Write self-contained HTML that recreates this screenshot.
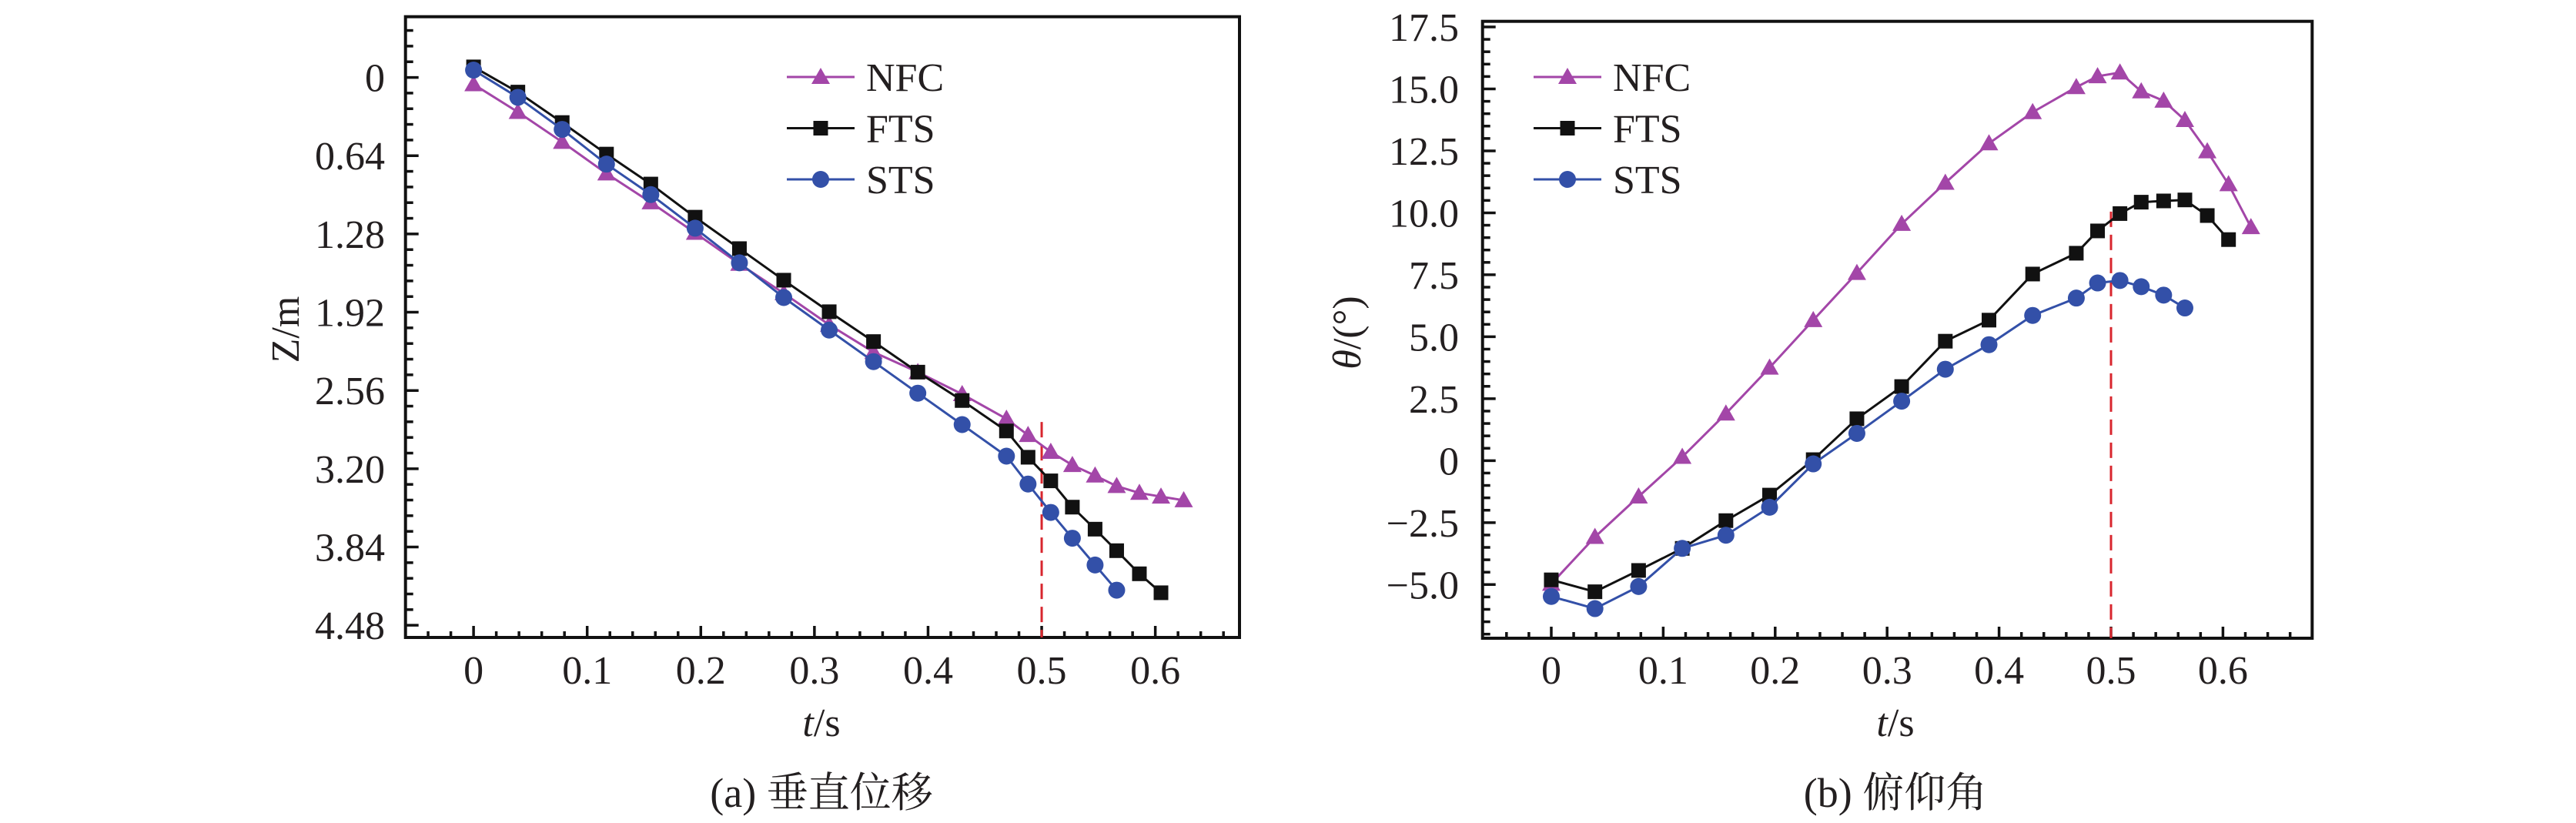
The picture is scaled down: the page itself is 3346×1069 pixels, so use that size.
<!DOCTYPE html>
<html><head><meta charset="utf-8"><style>
html,body{margin:0;padding:0;background:#fff;}
svg{display:block;font-family:"Liberation Serif","Noto Serif CJK SC",serif;}
</style></head><body>
<svg id="fig" width="3346" height="1069" viewBox="0 0 3346 1069" xmlns="http://www.w3.org/2000/svg"></svg>
<script>
// ---------- Data ----------
const tNFC = [0,0.039,0.078,0.117,0.156,0.195,0.234,0.273,0.313,0.352,0.391,0.43,0.469,0.488,0.508,0.527,0.547,0.566,0.586,0.605,0.625];
const tFTS = tNFC.slice(0,20);
const tSTS = tNFC.slice(0,18);
const zNFC = [0.056,0.283,0.528,0.786,1.022,1.271,1.525,1.765,2.023,2.246,2.410,2.590,2.792,2.925,3.062,3.170,3.256,3.342,3.398,3.428,3.458];
const zFTS = [-0.086,0.120,0.369,0.627,0.872,1.143,1.400,1.658,1.916,2.160,2.410,2.642,2.891,3.106,3.299,3.514,3.694,3.870,4.059,4.214];
const zSTS = [-0.060,0.163,0.425,0.709,0.958,1.233,1.516,1.800,2.066,2.324,2.582,2.839,3.097,3.325,3.557,3.768,3.987,4.193];
const thNFC = [-4.97,-3.08,-1.45,0.15,1.90,3.75,5.67,7.57,9.55,11.21,12.80,14.06,15.07,15.51,15.66,14.90,14.52,13.74,12.48,11.15,9.42];
const thFTS = [-4.81,-5.29,-4.43,-3.54,-2.42,-1.39,0.04,1.69,2.99,4.82,5.67,7.53,8.37,9.27,9.97,10.43,10.48,10.52,9.89,8.92];
const thSTS = [-5.48,-5.97,-5.08,-3.54,-3.01,-1.88,-0.13,1.10,2.40,3.69,4.68,5.86,6.56,7.17,7.27,7.02,6.68,6.16];
const xTicks = [0,0.1,0.2,0.3,0.4,0.5,0.6];
const xTickLabels = ["0","0.1","0.2","0.3","0.4","0.5","0.6"];
const zTicks = [0,0.64,1.28,1.92,2.56,3.20,3.84,4.48];
const zTickLabels = ["0","0.64","1.28","1.92","2.56","3.20","3.84","4.48"];
const thTicks = [17.5,15,12.5,10,7.5,5,2.5,0,-2.5,-5];
const thTickLabels = ["17.5","15.0","12.5","10.0","7.5","5.0","2.5","0","\u22122.5","\u22125.0"];
const seriesNames = ["NFC","FTS","STS"];
const markerLine = 0.5;

const NS="http://www.w3.org/2000/svg";
const svg=document.getElementById('fig');
function mk(tag,attrs,parent){const e=document.createElementNS(NS,tag);for(const k in attrs)e.setAttribute(k,attrs[k]);(parent||svg).appendChild(e);return e;}
const COL={NFC:"#a346a8",FTS:"#111111",STS:"#3350a8"};
const TXT="#231f20";

function marker(g,type,x,y,color){
  let m;
  if(type==="NFC"){m=mk('polygon',{points:`${x},${y-12} ${x-12},${y+9} ${x+12},${y+9}`,fill:color},g);}
  else if(type==="FTS"){m=mk('rect',{x:x-9.5,y:y-9.5,width:19,height:19,fill:color},g);}
  else {m=mk('circle',{cx:x,cy:y,r:11,fill:color},g);}
  
  
}

function chart(cfg){
  const g=mk('g',{});
  
  
  const X=v=>cfg.x0+(v-cfg.xmin)/(cfg.xmax-cfg.xmin)*(cfg.x1-cfg.x0);
  const Y=v=>cfg.y0+(v-cfg.ymin)/(cfg.ymax-cfg.ymin)*(cfg.y1-cfg.y0);
  // minor/major x ticks
  const xt=mk('g',{},g);
  
  
  for(let i=-3;i<=34;i++){const v=i*0.02;const px=X(v);if(px<=cfg.x0+3||px>=cfg.x1-3)continue;
    const major=(i%5===0);
    mk('line',{x1:px,y1:cfg.y1,x2:px,y2:cfg.y1-(major?15:8),stroke:"#111","stroke-width":3.5},xt);}
  const yt=mk('g',{},g);
  
  
  const lo=Math.ceil(Math.min(cfg.ymin,cfg.ymax)/cfg.minor-1e-6), hi=Math.floor(Math.max(cfg.ymin,cfg.ymax)/cfg.minor+1e-6);
  for(let i=lo;i<=hi;i++){const v=i*cfg.minor;const py=Y(v);if(py<=cfg.y0+3||py>=cfg.y1-3)continue;
    const major=Math.abs(Math.round(v/cfg.major)*cfg.major-v)<1e-6;
    mk('line',{x1:cfg.x0,y1:py,x2:cfg.x0+(major?17:10),y2:py,stroke:"#111","stroke-width":3.5},yt);}
  // frame
  const fr=mk('rect',{x:cfg.x0,y:cfg.y0,width:cfg.x1-cfg.x0,height:cfg.y1-cfg.y0,fill:"none",stroke:"#111","stroke-width":4},g);
  
  
  // tick labels
  xTicks.forEach((v,i)=>{const t=mk('text',{x:X(v),y:888,"font-size":52,"text-anchor":"middle",fill:TXT},g);t.textContent=xTickLabels[i];
    
    });
  cfg.yTicks.forEach((v,i)=>{const t=mk('text',{x:cfg.ylabX,y:Y(v)+18,"font-size":52,"text-anchor":"end",fill:TXT},g);t.textContent=cfg.yTickLabels[i];
    
    });
  // red dashed line
  const rl=mk('line',{x1:X(markerLine),x2:X(markerLine),y1:Y(cfg.redFrom),y2:cfg.y1,stroke:"#d8262e","stroke-width":3,"stroke-dasharray":"20 10"},g);
  
  
  // series
  cfg.series.forEach(s=>{
    const sg=mk('g',{},g);
    
    
    const pts=s.t.map((t,i)=>X(t)+','+Y(s.v[i])).join(' ');
    mk('polyline',{points:pts,fill:"none",stroke:COL[s.name],"stroke-width":3,"stroke-linejoin":"round"},sg);
    s.t.forEach((t,i)=>marker(sg,s.name,X(t),Y(s.v[i]),COL[s.name]));
  });
  // legend
  const lg=mk('g',{},g);
  
  
  seriesNames.forEach((n,i)=>{
    const e=mk('g',{},lg);
    
    
    const ly=cfg.legY+i*66.5;
    mk('line',{x1:cfg.legX,x2:cfg.legX+88,y1:ly,y2:ly,stroke:COL[n],"stroke-width":3},e);
    marker(e,n,cfg.legX+44,ly,COL[n]);
    const t=mk('text',{x:cfg.legX+103,y:ly+18,"font-size":52,fill:TXT},e);t.textContent=n;
  });
  // axis titles
  const xl=mk('text',{x:cfg.xTitleX,y:956,"font-size":52,"text-anchor":"middle",fill:TXT},g);
  
  
  xl.innerHTML='<tspan font-style="italic">t</tspan>/s';
  const yl=mk('text',{x:0,y:0,"font-size":52,"text-anchor":"middle",fill:TXT,transform:`translate(${cfg.yTitleX},${cfg.yTitleY}) rotate(-90)`},g);
  
  
  yl.innerHTML=cfg.yTitle;
  const cp=mk('text',{x:cfg.xTitleX,y:1048,"font-size":54,"text-anchor":"middle",fill:TXT},g);
  
  
  cp.textContent=cfg.caption;
}

chart({name:'chart-vertical-displacement',x0:526.7,x1:1610,y0:21.7,y1:828,xmin:-0.0599,xmax:0.6741,ymin:-0.4965,ymax:4.5796,
  minor:0.128,major:0.64,yTicks:zTicks,yTickLabels:zTickLabels,ylabX:500,redFrom:2.818,
  series:[{name:"NFC",t:tNFC,v:zNFC},{name:"FTS",t:tFTS,v:zFTS},{name:"STS",t:tSTS,v:zSTS}],
  legX:1022,legY:100,xTitleX:1067,yTitleX:388,yTitleY:428,yTitle:'Z/m',caption:'(a) 垂直位移'});

chart({name:'chart-pitch-angle',x0:1925.7,x1:3003.3,y0:27.7,y1:829,xmin:-0.0614,xmax:0.6797,ymin:17.727,ymax:-7.165,
  minor:0.5,major:2.5,yTicks:thTicks,yTickLabels:thTickLabels,ylabX:1895,redFrom:10.05,
  series:[{name:"NFC",t:tNFC,v:thNFC},{name:"FTS",t:tFTS,v:thFTS},{name:"STS",t:tSTS,v:thSTS}],
  legX:1992,legY:100,xTitleX:2462,yTitleX:1767,yTitleY:432,yTitle:'<tspan font-style="italic">θ</tspan>/(°)',caption:'(b) 俯仰角'});
</script>
</body></html>
